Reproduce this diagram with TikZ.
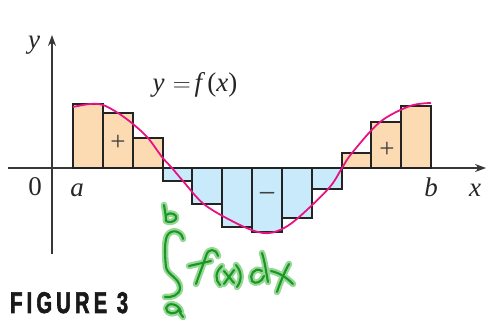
\documentclass[tikz,border=0pt]{standalone}
\usepackage{fontspec}
\setmainfont{Liberation Serif}
\newfontfamily\figfont[FakeStretch=0.67,LetterSpace=14,FakeBold=2]{Liberation Sans Bold}
\usetikzlibrary{arrows.meta}
\definecolor{posfill}{RGB}{253,219,178}
\definecolor{negfill}{RGB}{200,234,250}
\definecolor{edge}{RGB}{35,35,35}
\definecolor{axiscol}{RGB}{55,55,55}
\definecolor{curvecol}{RGB}{230,20,130}
\definecolor{glowcol}{RGB}{150,215,150}
\definecolor{inkcol}{RGB}{25,150,35}
\tikzset{
  posbox/.style={fill=posfill},
  negbox/.style={fill=negfill},
  boxline/.style={draw=edge,line width=2pt,line join=miter},
  axisline/.style={draw=axiscol,line width=1.6pt,-{Stealth[length=11pt,width=8pt]}},
  fcurve/.style={draw=curvecol,line width=1.8pt},
  lbl/.style={font=\fontsize{27}{30}\selectfont,text=black!85,inner sep=0pt},
  sgn/.style={font=\fontsize{27}{30}\selectfont,text=black!75,inner sep=0pt},
  glow/.style={draw=glowcol,line width=6.5pt,line cap=round,line join=round},
  ink/.style={draw=inkcol,line width=2.1pt,line cap=round,line join=round},
}
\newcommand{\handpaths}[1]{%
  \draw[#1] (164,205) .. controls (165,211) and (166,216) .. (166,221);
  \draw[#1] (166,215) .. controls (171,211) and (178,215) .. (176,219) .. controls (174,222) and (169,223) .. (166,221);
  \draw[#1] (183,239) .. controls (182,231) and (171,228) .. (167,236) .. controls (164,243) and (165,258) .. (166,267) .. controls (167,275) and (180,278) .. (180,288) .. controls (180,295) and (171,298) .. (165,297);
  \draw[#1] (181,312) .. controls (179,303) and (167,302) .. (166,308) .. controls (166,314) and (176,316) .. (179,309) .. controls (180,313) and (181,315) .. (183,317);
  \draw[#1] (218,256) .. controls (216,248) and (208,248) .. (206,256) .. controls (203,265) and (199,275) .. (196,284);
  \draw[#1] (189,266) -- (211,261);
  \draw[#1] (222,266) .. controls (215,272) and (215,280) .. (220,285);
  \draw[#1] (224,271) -- (234,283);
  \draw[#1] (234,270) -- (224,284);
  \draw[#1] (236,265) .. controls (242,272) and (242,280) .. (237,287);
  \draw[#1] (262,271) .. controls (254,266) and (249,276) .. (252,281) .. controls (255,285) and (262,282) .. (264,276);
  \draw[#1] (262,253) .. controls (265,262) and (266,272) .. (268,282);
  \draw[#1] (271,271) .. controls (280,273) and (287,278) .. (293,284);
  \draw[#1] (289,264) .. controls (284,273) and (280,283) .. (277,292);
}
\begin{document}
\begin{tikzpicture}[x=1pt,y=-1pt]
\useasboundingbox (0,0) rectangle (490,320);
% fills
\foreach \i/\t in {0/104,1/113,2/138,9/153,10/122,11/106}
  \fill[posbox] ({73+\i*29.833},168) rectangle ({73+(\i+1)*29.833},\t);
\foreach \i/\t in {3/181,4/204,5/227,6/232,7/218,8/189}
  \fill[negbox] ({73+\i*29.833},168) rectangle ({73+(\i+1)*29.833},\t);
% axes
\draw[axisline] (8,168) -- (486,168);
\draw[axisline] (52,254) -- (52,35);
% outlines
\foreach \i/\t in {0/104,1/113,2/138,3/181,4/204,5/227,6/232,7/218,8/189,9/153,10/122,11/106}
  \draw[boxline] ({73+\i*29.833},168) rectangle ({73+(\i+1)*29.833},\t);
% curve
\draw[fcurve] plot[smooth,tension=0.55] coordinates {(73,107) (90,104) (103,105) (118,113) (133,124) (148,138) (162,157) (172,168) (183,181) (205,205) (240,225) (263,233) (280,230) (298,218) (329,188) (342,168) (352,153) (380,122) (410,106) (431,103)};
% labels
\node[lbl,anchor=base] (ylab) at (34,49) {\textit{y}};
\node[lbl,anchor=base] (feq) at (195,92) {\textit{y}\hspace{0.3em}$=$\hspace{0.15em}\textit{f}\kern2pt(\textit{x})};
\node[lbl,anchor=base] (zero) at (35,196) {0};
\node[lbl,anchor=base] (alab) at (77,197) {\textit{a}};
\node[lbl,anchor=base] (blab) at (431,197) {\textit{b}};
\node[lbl,anchor=base] (xlab) at (475,197) {\textit{x}};
\node[sgn] (plus1) at (118,143) {+};
\node[sgn] (plus2) at (387,150) {+};
\node[sgn,font=\fontsize{31}{34}\selectfont] (minus) at (267,198) {−};
\node[font=\figfont\fontsize{30}{32}\selectfont,text=black!90,inner sep=0pt,anchor=base west] (fig) at (10,313) {FIGURE 3};
% handwriting
\handpaths{glow}
\handpaths{ink}
\end{tikzpicture}
\end{document}
